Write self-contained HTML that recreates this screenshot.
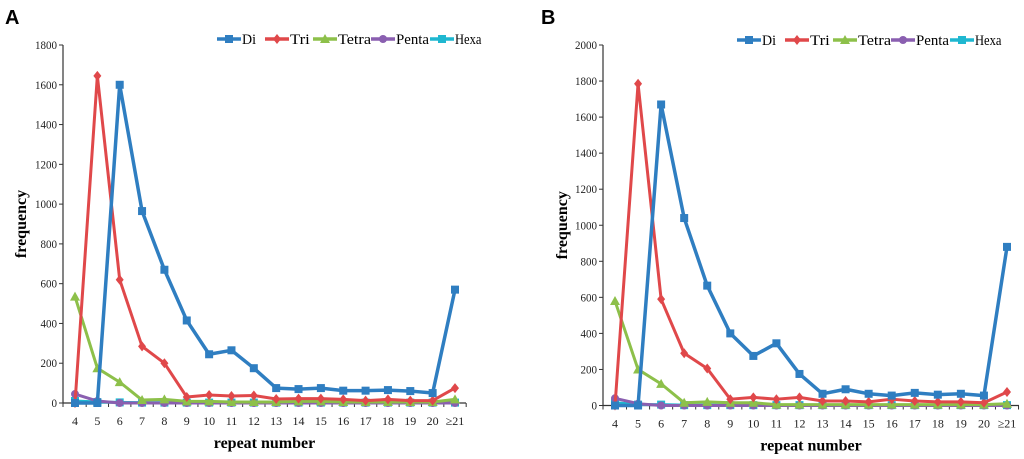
<!DOCTYPE html>
<html><head><meta charset="utf-8"><style>
html,body{margin:0;padding:0;background:#fff;}
svg{display:block;font-family:"Liberation Serif",serif;}
</style></head><body>
<svg id="c" width="1024" height="459" viewBox="0 0 1024 459"></svg>
<script>
const categories=["4","5","6","7","8","9","10","11","12","13","14","15","16","17","18","19","20","≥21"];
const seriesNames=["Di","Tri","Tetra","Penta","Hexa"];
const aDi=[0,0,1600,965,670,415,245,265,175,75,70,75,62,62,65,60,50,570];
const aTri=[0,1645,620,285,200,30,40,35,38,20,22,22,18,12,18,12,12,75];
const aTetra=[535,175,105,15,18,8,8,5,5,5,8,8,5,5,5,5,5,18];
const aPenta=[45,10,0,0,0,0,0,0,0,0,0,0,0,0,0,0,0,0];
const aHexa=[10,5,3,2,2,2,2,2,2,2,2,2,2,2,2,2,2,2];
const bDi=[0,0,1670,1040,665,400,275,345,175,65,90,65,55,70,60,65,55,880];
const bTri=[0,1785,590,290,205,35,45,35,45,25,25,20,35,25,20,20,15,75];
const bTetra=[580,200,120,15,20,15,15,5,5,5,5,5,5,5,5,5,5,10];
const bPenta=[40,10,0,0,0,0,0,0,0,0,0,0,0,0,0,0,0,0];
const bHexa=[15,5,5,2,2,2,2,2,2,2,2,2,2,2,2,2,2,2];
const aTicks=[0,200,400,600,800,1000,1200,1400,1600,1800];
const bTicks=[0,200,400,600,800,1000,1200,1400,1600,1800,2000];
const colors=["#2f7ec1","#e0484a","#8dc04a","#8a5fb0","#1fb7d0"];
const NS="http://www.w3.org/2000/svg";
const svg=document.getElementById("c");
function mk(t,a,p){const e=document.createElementNS(NS,t);for(const k in a)e.setAttribute(k,a[k]);(p||svg).appendChild(e);return e;}
function marker(g,i,x,y,c){
  if(i===0){return mk("rect",{x:x-4,y:y-4,width:8,height:8,fill:c},g);}
  if(i===1){return mk("polygon",{points:`${x},${y-5} ${x+4},${y} ${x},${y+5} ${x-4},${y}`,fill:c},g);}
  if(i===2){return mk("polygon",{points:`${x},${y-5} ${x+5},${y+4} ${x-5},${y+4}`,fill:c},g);}
  if(i===3){return mk("circle",{cx:x,cy:y,r:4,fill:c},g);}
  return mk("rect",{x:x-4,y:y-4,width:8,height:8,fill:c},g);
}
function panel(cfg){
  const {id,label,lx,ax,x0,x1,xEnd,y0,yTop,ymax,ticks,data,legX,legY,ylabX}=cfg;
  const g=mk("g",{});
  
  
  const xs=i=>x0+(x1-x0)*i/(categories.length-1);
  const ys=v=>y0-(y0-yTop)*v/ymax;
  const pl=mk("text",{x:lx,y:24,"font-family":"Liberation Sans, sans-serif","font-weight":"bold","font-size":20},g);
  pl.textContent=label;
  
  
  const ya=mk("line",{x1:ax,y1:yTop,x2:ax,y2:y0,stroke:"#333","stroke-width":1.2},g);
  
  
  const xa=mk("line",{x1:ax,y1:y0,x2:xEnd,y2:y0,stroke:"#333","stroke-width":1.2},g);
  
  
  ticks.forEach(t=>{
    mk("line",{x1:ax-4,y1:ys(t),x2:ax,y2:ys(t),stroke:"#333"},g);
    const tx=mk("text",{x:ax-6,y:ys(t)+4,"text-anchor":"end","font-size":12,fill:"#222",textLength:String(t).length*5.5,lengthAdjust:"spacingAndGlyphs"},g);
    tx.textContent=t;
    
    
  });
  const half=(x1-x0)/(categories.length-1)/2;
  categories.forEach((c,i)=>{
    mk("line",{x1:xs(i)+half,y1:y0,x2:xs(i)+half,y2:y0+4,stroke:"#333"},g);
    const tx=mk("text",{x:xs(i),y:y0+22,"text-anchor":"middle","font-size":12,fill:"#222"},g);
    tx.textContent=c;
    
    
  });
  mk("line",{x1:ax,y1:y0,x2:ax,y2:y0+4,stroke:"#333"},g);
  const xt=mk("text",{x:(ax+xEnd)/2,y:y0+45,"text-anchor":"middle","font-size":16,"font-weight":"bold"},g);
  xt.textContent="repeat number";
  
  
  const yt=mk("text",{x:0,y:0,"text-anchor":"middle","font-size":16,"font-weight":"bold",transform:`translate(${ylabX},${(y0+yTop)/2}) rotate(-90)`},g);
  yt.textContent="frequency";
  
  
  for(let s=4;s>=0;s--){
    const arr=data[s];
    const sg=mk("g",{},g);
    
    
    const pts=arr.map((v,i)=>xs(i)+","+ys(v)).join(" ");
    mk("polyline",{points:pts,fill:"none",stroke:colors[s],"stroke-width":s===0?3.5:3,"stroke-linejoin":"round"},sg);
    arr.forEach((v,i)=>{const m=marker(sg,s,xs(i),ys(v),colors[s]);
      
      });
  }
  const widths=[48,48,58,59,50];
  let lxp=legX;
  seriesNames.forEach((n,s)=>{
    const lg=mk("g",{},g);
    
    
    mk("line",{x1:lxp,y1:legY,x2:lxp+24,y2:legY,stroke:colors[s],"stroke-width":3.5},lg);
    marker(lg,s,lxp+12,legY,colors[s]);
    const t=mk("text",{x:lxp+25,y:legY+5,"font-size":15,textLength:n.length*(n.length<3?7:6.6),lengthAdjust:"spacingAndGlyphs"},lg);
    t.textContent=n;
    lxp+=widths[s];
  });
}
panel({id:"panel-a",label:"A",lx:5,ax:63,x0:75,x1:455,xEnd:466,y0:403,yTop:45,ymax:1800,ticks:aTicks,
  data:[aDi,aTri,aTetra,aPenta,aHexa],legX:217,legY:39,ylabX:26});
panel({id:"panel-b",label:"B",lx:541,ax:603,x0:615,x1:1007,xEnd:1019,y0:405.5,yTop:45,ymax:2000,ticks:bTicks,
  data:[bDi,bTri,bTetra,bPenta,bHexa],legX:737,legY:40,ylabX:567});
</script>
</body></html>
